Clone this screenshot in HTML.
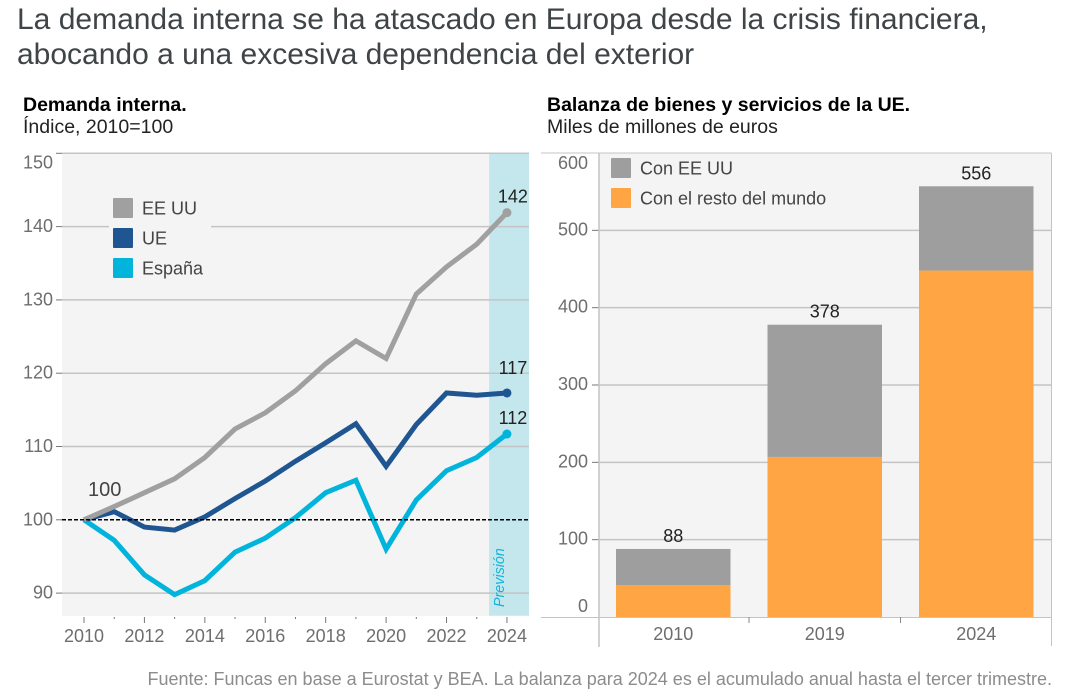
<!DOCTYPE html>
<html lang="es">
<head>
<meta charset="utf-8">
<title>Demanda interna y balanza de la UE</title>
<style>
html,body{margin:0;padding:0;background:#fff;width:1075px;height:700px;overflow:hidden}
svg{display:block;font-family:"Liberation Sans",sans-serif}
</style>
</head>
<body>
<svg id="chart" width="1075" height="700" viewBox="0 0 1075 700" xmlns="http://www.w3.org/2000/svg">
  <text x="17" y="29" font-size="30" fill="#3f4447">La demanda interna se ha atascado en Europa desde la crisis financiera,</text>
  <text x="17" y="64" font-size="30" fill="#3f4447">abocando a una excesiva dependencia del exterior</text>
  <text x="23" y="111" font-size="19.5" font-weight="bold" fill="#000">Demanda interna.</text>
  <text x="23" y="133" font-size="19.5" fill="#222">Índice, 2010=100</text>
  <text x="547" y="111" font-size="19.5" font-weight="bold" fill="#000">Balanza de bienes y servicios de la UE.</text>
  <text x="547" y="133" font-size="19.5" fill="#222">Miles de millones de euros</text>
  <g id="left"></g>
  <g id="right"></g>
  <text x="1052" y="685" text-anchor="end" font-size="18" fill="#8c8c8c">Fuente: Funcas en base a Eurostat y BEA. La balanza para 2024 es el acumulado anual hasta el tercer trimestre.</text>
</svg>
<script>
const years = [2010,2011,2012,2013,2014,2015,2016,2017,2018,2019,2020,2021,2022,2023,2024];
const usValues = [100,101.8,103.7,105.6,108.5,112.4,114.6,117.6,121.3,124.4,122,130.8,134.5,137.6,141.9];
const euValues = [100,101.1,99,98.6,100.4,102.9,105.3,108,110.5,113.1,107.3,113,117.3,117,117.3];
const esValues = [100,97.2,92.5,89.8,91.7,95.6,97.5,100.3,103.7,105.4,96,102.7,106.7,108.5,111.7];
const leftTicks = [90,100,110,120,130,140,150];
const yearTicks = [2010,2012,2014,2016,2018,2020,2022,2024];
const lineEndLabels = ['142','117','112'];
const lineNames = ['EE UU','UE','España'];
const barCategories = ['2010','2019','2024'];
const barUsValues = [47,171,109];
const barRestValues = [41,207,448];
const barTotals = ['88','378','556'];
const rightTicks = [0,100,200,300,400,500,600];
const barLegendNames = ['Con EE UU','Con el resto del mundo'];

const NS = 'http://www.w3.org/2000/svg';
function make(parent, tag, attrs, text) {
  const el = document.createElementNS(NS, tag);
  for (const k in attrs) el.setAttribute(k, attrs[k]);
  if (text !== undefined) el.textContent = text;
  parent.appendChild(el);
  return el;
}
const GRID = '#c4c4c4', TICKTXT = '#6e6e6e', PANEL = '#f4f4f4';

/* ---------- left chart ---------- */
const left = document.getElementById('left');
const lx = v => 84 + (v - 2010) * 30.21;
const ly = v => 519.8 - (v - 100) * 7.33;

const leftPanel = make(left, 'rect', {x:62, y:153, width:467, height:463, fill:PANEL});



const forecast = make(left, 'rect', {x:lx(2023)+12.3, y:153, width:529-(lx(2023)+12.3), height:462.7, fill:'#c4e7ee'});



leftTicks.forEach(t => {
  if (t !== 100) {
    const g = make(left, 'line', {x1:62, x2:529, y1:ly(t), y2:ly(t), stroke:GRID, 'stroke-width':1.5});
    
    
  }
  const tk = make(left, 'line', {x1:56, x2:62, y1:ly(t), y2:ly(t), stroke:'#777', 'stroke-width':1});
  
  
  const lb = make(left, 'text', {x:53, y:ly(t) + (t === 150 ? 15 : 5.5), 'text-anchor':'end', 'font-size':18, fill:TICKTXT}, String(t));
  
  
});

const legendMask = make(left, 'rect', {x:109, y:218, width:102, height:16, fill:PANEL});



const forecastLabel = make(left, 'text', {transform:'translate(504,607) rotate(-90)', 'font-size':14.3, 'font-style':'italic', fill:'#16b3d8'}, 'Previsión');



const seriesList = [usValues, euValues, esValues];
const seriesColors = ['#a0a0a0', '#1f5591', '#00b4dc'];
[2, 1, 0].forEach(i => {
  const pts = seriesList[i].map((v, j) => lx(years[j]).toFixed(1) + ',' + ly(v).toFixed(1)).join(' ');
  const line = make(left, 'polyline', {points:pts, fill:'none', stroke:seriesColors[i], 'stroke-width':5, 'stroke-linejoin':'miter'});
  
  
  const last = seriesList[i].length - 1;
  const dot = make(left, 'circle', {cx:lx(years[last]), cy:ly(seriesList[i][last]), r:4.5, fill:seriesColors[i]});
  
  
  const lab = make(left, 'text', {x:lx(years[last]) + 6, y:ly(seriesList[i][last]) - 10 - (i === 1 ? 9 : 0), 'text-anchor':'middle', 'font-size':18, fill:'#222'}, lineEndLabels[i]);
  
  
});

const baseLine = make(left, 'line', {x1:62, x2:529, y1:ly(100), y2:ly(100), stroke:'#000', 'stroke-width':1.5, 'stroke-dasharray':'4 2'});



const startLabel = make(left, 'text', {x:88, y:496, 'font-size':20, fill:'#444'}, '100');



years.forEach(y => {
  const major = yearTicks.includes(y);
  const tk = make(left, 'line', {x1:lx(y), x2:lx(y), y1:617, y2:major ? 623 : 619, stroke:'#777', 'stroke-width':1});
  
  
});
yearTicks.forEach(y => {
  const lb = make(left, 'text', {x:lx(y), y:642, 'text-anchor':'middle', 'font-size':18, fill:TICKTXT}, String(y));
  
  
});

lineNames.forEach((n, i) => {
  const sw = make(left, 'rect', {x:113, y:198 + i * 30, width:20, height:20, rx:1, fill:seriesColors[i]});
  
  
  const tx = make(left, 'text', {x:142, y:214.5 + i * 30, 'font-size':18, fill:'#444'}, n);
  
  
});

/* ---------- right chart ---------- */
const right = document.getElementById('right');
const ry = v => 617 - v * 0.7733;
const bx = i => 616 + i * 151.5;
const BAR_W = 114.5;

const rightPanel = make(right, 'rect', {x:599, y:153, width:452, height:464, fill:PANEL});



const topBorder = make(right, 'line', {x1:541, x2:1051.5, y1:153, y2:153, stroke:GRID, 'stroke-width':1});



rightTicks.forEach(t => {
  if (t > 0 && t < 600) {
    const g = make(right, 'line', {x1:599, x2:1051, y1:ry(t), y2:ry(t), stroke:GRID, 'stroke-width':1.5});
    
    
    const tk = make(right, 'line', {x1:592, x2:599, y1:ry(t), y2:ry(t), stroke:'#777', 'stroke-width':1});
    
    
  }
  const off = t === 0 ? -5 : (t === 600 ? 16 : 5);
  const lb = make(right, 'text', {x:588, y:ry(t) + off, 'text-anchor':'end', 'font-size':18, fill:TICKTXT}, String(t));
  
  
});

const axisLeft = make(right, 'line', {x1:599, x2:599, y1:153, y2:647, stroke:GRID, 'stroke-width':1.5});


const axisRight = make(right, 'line', {x1:1051.5, x2:1051.5, y1:153, y2:646, stroke:GRID, 'stroke-width':1});


const axisBottom = make(right, 'line', {x1:541, x2:1051.5, y1:617.5, y2:617.5, stroke:GRID, 'stroke-width':1});



barCategories.forEach((c, i) => {
  const rest = make(right, 'rect', {x:bx(i), y:ry(barRestValues[i]), width:BAR_W, height:barRestValues[i] * 0.7733, fill:'#ffa544'});
  
  
  const total = barRestValues[i] + barUsValues[i];
  const us = make(right, 'rect', {x:bx(i), y:ry(total), width:BAR_W, height:barUsValues[i] * 0.7733, fill:'#9e9e9e'});
  
  
  const tl = make(right, 'text', {x:bx(i) + BAR_W / 2, y:ry(total) - 7, 'text-anchor':'middle', 'font-size':18, fill:'#222'}, barTotals[i]);
  
  
  const cl = make(right, 'text', {x:bx(i) + BAR_W / 2, y:640, 'text-anchor':'middle', 'font-size':18, fill:TICKTXT}, c);
  
  
  if (i > 0) {
    const sep = make(right, 'line', {x1:bx(i) - 18.5, x2:bx(i) - 18.5, y1:617, y2:623, stroke:'#888', 'stroke-width':1});
    
    
  }
});

const barLegendColors = ['#9e9e9e', '#ffa544'];
barLegendNames.forEach((n, i) => {
  const sw = make(right, 'rect', {x:611, y:158 + i * 30, width:20, height:20, rx:1, fill:barLegendColors[i]});
  
  
  const tx = make(right, 'text', {x:640, y:174.5 + i * 30, 'font-size':18, fill:'#444'}, n);
  
  
});
</script>
</body>
</html>
